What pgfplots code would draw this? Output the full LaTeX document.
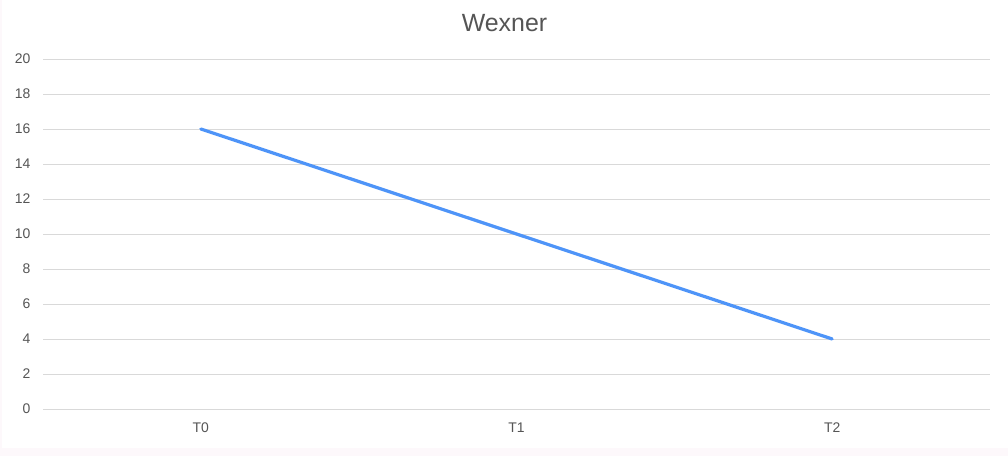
\documentclass[border=0pt]{standalone}
\usepackage{pgfplots}
\pgfplotsset{compat=1.18}
\usepackage{fontspec}
\setmainfont{Liberation Sans}
\definecolor{linecol}{HTML}{4E94F8}
\definecolor{gridcol}{HTML}{D9D9D9}
\definecolor{txtcol}{HTML}{555555}
\definecolor{bandcol}{HTML}{FDF8FB}
\begin{document}
\begin{tikzpicture}[x=1bp,y=1bp]
\fill[white] (0,0) rectangle (1008,456);
\fill[bandcol] (0,0) rectangle (1008,8);
\fill[bandcol] (0,0) rectangle (2,456);
\node[font=\fontsize{25}{28}\selectfont, text=txtcol, anchor=base] at (504.5,424) {Wexner};
\begin{axis}[
  at={(43bp,47bp)}, anchor=south west,
  scale only axis,
  width=947bp, height=350bp,
  xmin=-0.5, xmax=2.5,
  ymin=0, ymax=20,
  xtick={0,1,2}, xticklabels={T0,T1,T2},
  ytick={0,2,...,20},
  axis line style={draw=none},
  tick style={draw=none},
  ymajorgrids,
  grid style={gridcol, line width=0.8bp},
  tick label style={font=\fontsize{14}{16}\selectfont, text=txtcol},
  /pgf/number format/assume math mode=true,
  yticklabel style={xshift=-9bp},
  xticklabel style={yshift=-10bp},
  clip=false,
]
\addplot[linecol, line width=3.2bp, line cap=round] coordinates {(0,16) (1,10) (2,4)};
\end{axis}
\end{tikzpicture}
\end{document}
